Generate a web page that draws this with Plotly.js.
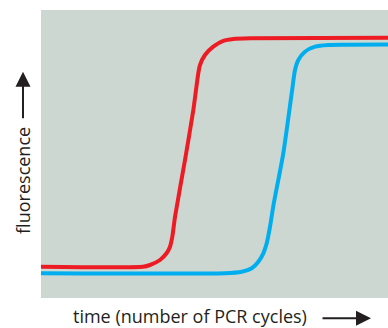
<!DOCTYPE html>
<html>
<head>
<meta charset="utf-8">
<script src="https://cdn.plot.ly/plotly-3.0.1.min.js"></script>
<style>html,body{margin:0;padding:0;background:#fff;}#chart{width:388px;height:328px;}</style>
</head>
<body>
<div id="chart"></div>
<script>
// PCR cycle (x) and fluorescence (y, arbitrary units)
var redCycles = [0, 11.76, 12.56, 13.72, 14.49, 14.87, 15.14, 15.45, 16.60, 17.56, 18.13, 18.33, 18.90, 19.86, 21.01, 22.17, 24.09, 40];
var redFluor  = [10.87, 10.87, 11.46, 13.19, 15.63, 17.81, 21.28, 28.23, 47.92, 65.28, 78.02, 80.90, 84.38, 87.26, 89.24, 89.93, 90.17, 90.38];
var blueCycles = [0, 21.21, 23.14, 24.29, 25.05, 25.63, 26.02, 26.40, 26.78, 27.93, 28.90, 29.28, 29.66, 30.43, 31.59, 33.12, 35.04, 40];
var blueFluor  = [8.6, 8.6, 9.13, 10.31, 12.60, 15.52, 18.99, 24.76, 31.94, 50.24, 71.08, 79.17, 82.64, 85.52, 87.26, 87.85, 87.95, 88.02];
var xLabel = "time (number of PCR cycles)";
var yLabel = "fluorescence";

var traces = [
  {x: redCycles, y: redFluor, mode: "lines", line: {color: "#ed1c24", width: 4, shape: "spline", smoothing: 0.6}, hoverinfo: "none"},
  {x: blueCycles, y: blueFluor, mode: "lines", line: {color: "#00aeef", width: 4, shape: "spline", smoothing: 0.6}, hoverinfo: "none"}
];
var axisOff = {showgrid: false, zeroline: false, showticklabels: false, ticks: "", showline: false, fixedrange: true};
var layout = {
  width: 388, height: 328,
  margin: {l: 41, r: 0, t: 10, b: 30},
  paper_bgcolor: "#ffffff",
  plot_bgcolor: "#cdd7d2",
  showlegend: false,
  xaxis: Object.assign({range: [0, 40]}, axisOff),
  yaxis: Object.assign({range: [0, 100]}, axisOff),
  font: {family: "Open Sans, sans-serif", color: "#231f20"},
  annotations: [
    {xref: "paper", yref: "paper", x: 0.429, y: -0.0625, text: xLabel, showarrow: false, font: {size: 18, color: "#231f20"}, xanchor: "center", yanchor: "middle"},
    {xref: "paper", yref: "paper", x: -0.052, y: 0.41, text: yLabel, showarrow: false, textangle: -90, font: {size: 18, color: "#231f20"}, xanchor: "center", yanchor: "middle"},
    {xref: "paper", yref: "paper", x: 0.951, y: -0.0705, text: "", showarrow: true, ax: -50, ay: 0, arrowhead: 2, arrowsize: 1.5, arrowwidth: 2, arrowcolor: "#231f20", standoff: 0},
    {xref: "paper", yref: "paper", x: -0.0519, y: 0.786, text: "", showarrow: true, ax: 0, ay: 48, arrowhead: 2, arrowsize: 1.5, arrowwidth: 2, arrowcolor: "#231f20", standoff: 0}
  ]
};
Plotly.newPlot("chart", traces, layout, {staticPlot: true, displayModeBar: false});
</script>
</body>
</html>
